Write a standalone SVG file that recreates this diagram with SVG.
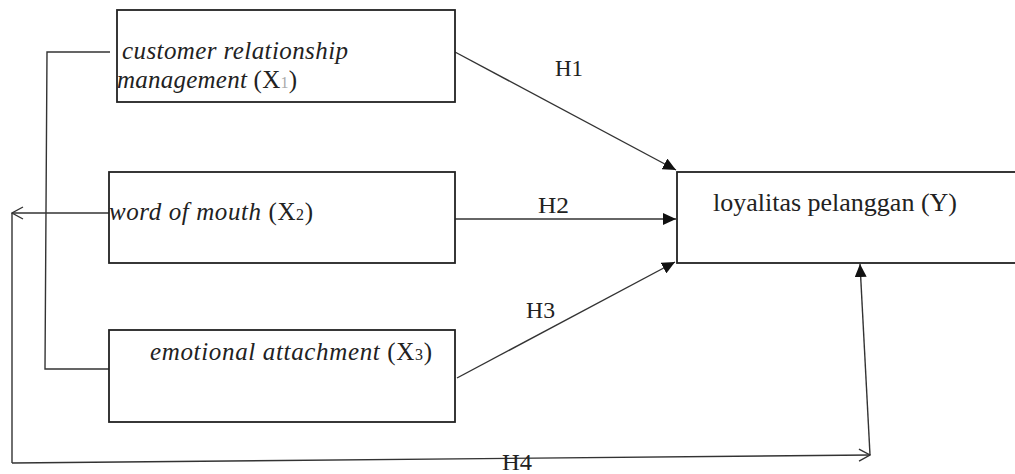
<svg xmlns="http://www.w3.org/2000/svg" width="1015" height="474" viewBox="0 0 1015 474">
  <defs>
    <style>
      .box { fill: #ffffff; stroke: #222222; stroke-width: 1.8; }
      .conn { fill: none; stroke: #333333; stroke-width: 1.4; }
      .lbl { font-family: "Liberation Serif", "Times New Roman", serif; font-size: 23px; fill: #222222; }
      .big { font-size: 25px; }
      .it { font-style: italic; }
      .sub { font-size: 16px; }
    </style>
    <marker id="solid" markerUnits="userSpaceOnUse" markerWidth="13" markerHeight="12" refX="13" refY="6" orient="auto">
      <path d="M0,0 L13,6 L0,12 z" fill="#111111"/>
    </marker>
    <marker id="open" markerUnits="userSpaceOnUse" markerWidth="13" markerHeight="14" refX="12" refY="7" orient="auto">
      <path d="M1,1 L12,7 L1,13" fill="none" stroke="#333333" stroke-width="1.4"/>
    </marker>
  </defs>

  <rect width="1015" height="474" fill="#ffffff"/>

  <!-- connectors -->
  <g id="connectors">
    <line class="conn" x1="455" y1="52" x2="676" y2="170" marker-end="url(#solid)"/>
    <line class="conn" x1="455" y1="219" x2="676" y2="219" marker-end="url(#solid)"/>
    <line class="conn" x1="457" y1="378" x2="675" y2="262" marker-end="url(#solid)"/>
    <polyline class="conn" points="110,52 47,52 45,369 109,369"/>
    <line class="conn" x1="109" y1="213" x2="12" y2="213" marker-end="url(#open)"/>
    <line class="conn" x1="12" y1="213" x2="12" y2="463"/>
    <line class="conn" x1="12" y1="463" x2="870" y2="455" marker-end="url(#open)"/>
    <line class="conn" x1="870" y1="455" x2="860" y2="264" marker-end="url(#solid)"/>
    <text class="lbl" x="555" y="76" textLength="28" lengthAdjust="spacingAndGlyphs">H1</text>
    <text class="lbl" x="538" y="213" textLength="31" lengthAdjust="spacingAndGlyphs">H2</text>
    <text class="lbl" x="526" y="318" textLength="29" lengthAdjust="spacingAndGlyphs">H3</text>
    <text class="lbl" x="502" y="470" textLength="30" lengthAdjust="spacingAndGlyphs">H4</text>
  </g>

  <!-- customer relationship management -->
  <g id="x1">
    <rect class="box" x="117" y="10" width="338" height="92"/>
    <text class="lbl big it" x="122" y="59" textLength="226" lengthAdjust="spacing">customer relationship</text>
    <text class="lbl big" x="117" y="88" textLength="180" lengthAdjust="spacing"><tspan class="it">management</tspan> (X<tspan class="sub" fill="#aaaaaa">1</tspan>)</text>
  </g>

  <!-- word of mouth -->
  <g id="x2">
    <rect class="box" x="109" y="172" width="346" height="91"/>
    <text class="lbl big" x="109" y="220" textLength="204" lengthAdjust="spacing"><tspan class="it">word of mouth</tspan> (X<tspan class="sub">2</tspan>)</text>
  </g>

  <!-- emotional attachment -->
  <g id="x3">
    <rect class="box" x="109" y="330" width="346" height="92"/>
    <text class="lbl big" x="150" y="360" textLength="282" lengthAdjust="spacing"><tspan class="it">emotional  attachment</tspan> (X<tspan class="sub">3</tspan>)</text>
  </g>

  <!-- loyalitas pelanggan -->
  <g id="y">
    <rect class="box" x="677" y="172" width="345" height="91"/>
    <text class="lbl big" x="713" y="211" textLength="244" lengthAdjust="spacingAndGlyphs">loyalitas pelanggan (Y)</text>
  </g>
</svg>
